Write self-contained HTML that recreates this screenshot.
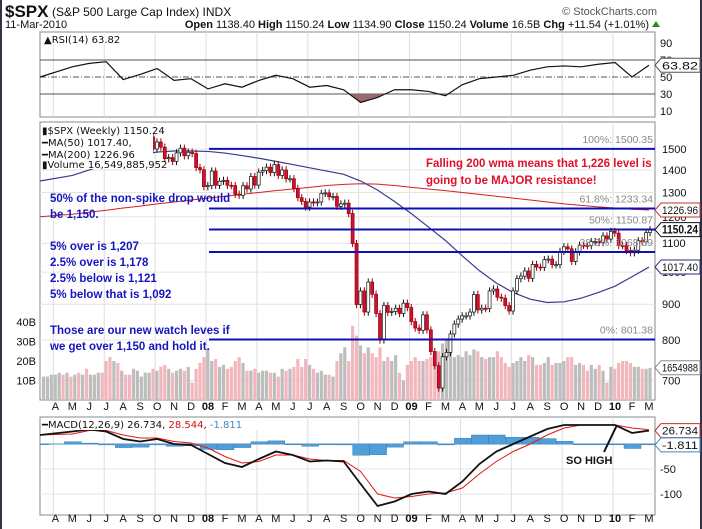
<!DOCTYPE html>
<html><head><meta charset="utf-8"><style>
html,body{margin:0;padding:0;background:#fff;}
svg{display:block;font-family:"Liberation Sans",Arial,sans-serif;}
.ax{font-size:11px;fill:#111;}
.note{font-size:11.5px;font-weight:bold;fill:#1515c0;}
.rnote{font-size:11.5px;font-weight:bold;fill:#e0102a;}
.fib{font-size:10.5px;fill:#888;}
.leg{font-family:"DejaVu Sans","Liberation Sans",sans-serif;font-size:10px;fill:#111;}
</style></head><body>
<svg id="chart" width="702" height="529" viewBox="0 0 702 529" xmlns="http://www.w3.org/2000/svg">
<rect x="0" y="0" width="702" height="529" fill="#fff"/>
<rect x="0" y="0" width="2" height="529" fill="#333344"/>
<rect x="700" y="0" width="2" height="529" fill="#333344"/>
<g>
<text x="5" y="17" font-size="17" font-weight="bold" fill="#111">$SPX</text>
<text x="52" y="16" font-size="12" fill="#111">(S&amp;P 500 Large Cap Index) INDX</text>
<text x="657" y="15" font-size="11" fill="#555" text-anchor="end">© StockCharts.com</text>
<text x="5" y="28" font-size="11" fill="#111">11-Mar-2010</text>
<text x="649" y="28" font-size="11" fill="#111" text-anchor="end"><tspan font-weight="bold">Open</tspan> 1138.40 <tspan font-weight="bold">High</tspan> 1150.24 <tspan font-weight="bold">Low</tspan> 1134.90 <tspan font-weight="bold">Close</tspan> 1150.24 <tspan font-weight="bold">Volume</tspan> 16.5B <tspan font-weight="bold">Chg</tspan> +11.54 (+1.01%)</text>
<polygon points="652,27 656,21 660,27" fill="#2a8a2a"/>
</g>
<g id="grid"></g>
<g id="rsi"></g>
<g id="price"></g>
<g id="macd"></g>
<g id="over"></g>
</svg>
<script>
const closes=[1444,1452,1471,1494, 1505,1491,1522,1515,1530, 1507,1532,1502,1503, 1530,1552,1534,1458, 1433,1453,1445,1479,1473, 1454,1484,1525,1527, 1557,1561,1500,1535, 1509,1453,1458,1440,1481, 1504,1467,1484,1478,
1411,1401,1325,1330,1395, 1331,1349,1353,1331,1330, 1293,1288,1329,1315, 1370,1332,1390,1397, 1413,1388,1425,1375,1400, 1360,1360,1318,1278, 1262,1239,1260,1257, 1260,1296,1298,1282,1283, 1242,1252,1255,1213, 1099,899,940,877,968, 930,873,800,896, 876,879,888,873,903,
890,850,832,826, 869,827,770,735, 683,757,768,816, 843,857,866,866,877, 929,883,888,887, 940,946,921,918, 896,880,940,979, 987,1004,980,1026, 1017,1016,1042,1044,1025, 1025,1071,1087,1080,1036, 1069,1093,1092,1091, 1106,1106,1102,1127,1115,
1144,1137,1092,1091, 1074,1066,1075,1109,1105, 1139,1150];
const volumes=[12,12,13,13, 14,13,14,12,13, 14,13,16,13, 13,14,14,20, 22,20,19,15,13, 13,16,15,12, 14,14,16,15, 17,18,16,14,15, 16,15,17,9,
16,19,22,26,20, 21,17,18,16,17, 20,22,19,15, 15,16,14,15, 15,14,14,12,16, 15,16,17,21, 17,21,18,16, 14,15,13,13,12, 20,24,27,20, 38,33,28,24,27, 24,22,27,20, 22,20,23,14,10,
18,20,22,20, 20,21,22,24, 25,29,31,25, 22,23,22,25,23, 26,25,22,21, 22,22,25,22, 19,17,19,20, 22,20,23,22, 18,18,19,22,18, 19,19,20,22,22, 18,19,18,15, 18,16,18,15,9,
17,16,19,20, 20,19,17,17,16, 16,16.5];
const monthLabels=["A","M","J","J","A","S","O","N","D","08","F","M","A","M","J","J","A","S","O","N","D","09","F","M","A","M","J","J","A","S","O","N","D","10","F","M"];
const ma50=[1350,1375,1400,1425,1450,1470,1485,1490,1490,1488,1480,1468,1455,1440,1425,1410,1395,1380,1350,1310,1262,1212,1160,1110,1055,1005,965,935,915,905,907,918,935,955,985,1017];
const ma200=[1200,1210,1218,1226,1235,1243,1252,1260,1268,1276,1284,1292,1300,1308,1315,1322,1330,1335,1338,1336,1330,1322,1315,1308,1300,1292,1284,1276,1268,1260,1252,1246,1240,1235,1230,1227];
const rsiVals=[50,62,66,68,47,53,60,46,48,36,42,38,46,52,48,38,40,35,20,26,35,35,33,28,41,48,50,52,58,62,63,62,65,67,50,63.82];
const macdVals=[18,25,29,25,10,5,10,0,-2,-20,-38,-46,-30,-15,-22,-35,-33,-35,-80,-124,-115,-100,-95,-100,-75,-40,-15,0,15,30,38,38,38,38,22,26.734];
const signalVals=[18,20,27,27,18,12,12,5,2,-8,-25,-38,-35,-22,-22,-30,-33,-33,-55,-100,-108,-105,-100,-98,-88,-60,-35,-15,0,18,32,38,38,38,32,28.544];
const priceTicks=[1500,1400,1300,1200,1100,1000,900,800,700];
const volTicks=[10,20,30,40];
const rsiTicks=[90,70,50,30,10];
const macdTicks=[-50,-100];
const fibLevels=[1500.35,1233.34,1150.87,1068.69,801.38];
const fibNames=["100%","61.8%","50%","38.2%","0%"];

const NS="http://www.w3.org/2000/svg";
const L=40,R=655;
function mk(tag,attrs,parent,txt){const e=document.createElementNS(NS,tag);for(const k in attrs)e.setAttribute(k,attrs[k]);if(txt!==undefined)e.textContent=txt;parent.appendChild(e);return e;}
const xW=i=>650-(closes.length-1-i)*3.913;
const xM=m=>208+(m-9)*16.96;
const yP=p=>149+(Math.log(1500)-Math.log(p))*303.8;
const yV=v=>400-v*1.95;
const yR=v=>94-(v-30)*0.85;
const yM=v=>444-v*0.5;
const G=document.getElementById('grid');
const panels=[[32,117],[122,400],[417,515]];
panels.forEach((p,k)=>{
  const r=mk('rect',{x:L,y:p[0],width:R-L,height:p[1]-p[0],fill:'#fff',stroke:'#888','stroke-width':1},G);
  
  
  for(let m=0;m<36;m+=3){
    const l=mk('line',{x1:xM(m)-2,x2:xM(m)-2,y1:p[0],y2:p[1],stroke:'#ddd'},G);
    
    
  }
});
[410,522].forEach(y=>{monthLabels.forEach((t,m)=>{
  const e=mk('text',{x:xM(m),y:y,class:'ax','text-anchor':'middle','font-weight':/\d/.test(t)?'bold':'normal','font-size':/\d/.test(t)?12:11},G,t);
  
  
});});
const RS=document.getElementById('rsi');
rsiTicks.forEach(v=>{
  const t=mk('text',{x:660,y:yR(v)+4,class:'ax'},RS,String(v));
  
  
});
[70,30].forEach(v=>{const l=mk('line',{x1:L,x2:R,y1:yR(v),y2:yR(v),stroke:'#555'},RS);});
{const l=mk('line',{x1:L,x2:R,y1:yR(50),y2:yR(50),stroke:'#555','stroke-dasharray':'6,2,1,2'},RS);}
const rsiPts=rsiVals.map((v,m)=>[m===0?L:xM(m),yR(v)]);
{const cp=mk('clipPath',{id:'below30'},RS);mk('rect',{x:L,y:yR(30),width:R-L,height:30},cp);}
{const f=mk('polygon',{points:rsiPts.map(p=>p.join(',')).join(' ')+` ${rsiPts[rsiPts.length-1][0]},${yR(30)} ${L},${yR(30)}`,fill:'#9a6a6a','clip-path':'url(#below30)'},RS);}
{const l=mk('polyline',{points:rsiPts.map(p=>p.join(',')).join(' '),fill:'none',stroke:'#111','stroke-width':1.2},RS);}
{const b=mk('rect',{x:41,y:33,width:68,height:12,fill:'#fff'},RS);
 const t=mk('text',{x:44,y:43,class:'leg','font-size':11},RS,'▲RSI(14) 63.82');}
const P=document.getElementById('price');
priceTicks.forEach(v=>{
  const l=mk('line',{x1:L,x2:R,y1:yP(v),y2:yP(v),stroke:'#e4e4e4'},P);
  
  
  const t=mk('text',{x:662,y:yP(v)+4,class:'ax'},P,String(v));
  
  
});
volTicks.forEach(v=>{
  const t=mk('text',{x:36,y:yV(v)+4,class:'ax','text-anchor':'end'},P,v+'B');
  
  
});
volumes.forEach((v,i)=>{
  const up=i===0||closes[i]>=closes[i-1];
  const r=mk('rect',{x:xW(i)-1.6,y:yV(v),width:3.2,height:400-yV(v),fill:up?'#bdbdbd':'#f2b7bd'},P);
  
  
});
{const l=mk('polyline',{points:ma200.map((v,m)=>`${m===0?L:xM(m)},${yP(v)}`).join(' '),fill:'none',stroke:'#d42020','stroke-width':1},P);}
{const l=mk('polyline',{points:ma50.map((v,m)=>`${m===0?L:xM(m)},${yP(v)}`).join(' '),fill:'none',stroke:'#3a3a90','stroke-width':1.2},P);}
closes.forEach((c,i)=>{
  const o=i>0?closes[i-1]:c;const hi=Math.max(o,c)*1.012,lo=Math.min(o,c)*0.988;
  const x=xW(i),up=c>=o;
  const w=mk('line',{x1:x,x2:x,y1:yP(hi),y2:yP(lo),stroke:up?'#111':'#900'},P);
  
  
  const top=yP(Math.max(o,c)),bot=yP(Math.min(o,c));
  const b=mk('rect',{x:x-1.5,y:top,width:3,height:Math.max(1,bot-top),fill:up?'#fff':'#d0103a',stroke:up?'#111':'#900','stroke-width':0.7},P);
  
  
});
fibLevels.forEach((v,k)=>{
  const l=mk('line',{x1:209,x2:R,y1:yP(v),y2:yP(v),stroke:'#1010b0','stroke-width':2},P);
  
  
  const t=mk('text',{x:653,y:yP(v)-6,class:'fib','text-anchor':'end'},P,fibNames[k]+': '+v.toFixed(2));
  
  
});
{const b=mk('rect',{x:41,y:123,width:112,height:46,fill:'#fff'},P);}
[['▮$SPX (Weekly) 1150.24','#111',134],['━MA(50) 1017.40,','#1a1a80',146],['━MA(200) 1226.96','#d01010',158],['▮Volume 16,549,885,952','#555',168]].forEach(a=>{
  const t=mk('text',{x:42,y:a[2],class:'leg',fill:a[1]},P,a[0]);
  
  
});
const M=document.getElementById('macd');
macdTicks.forEach(v=>{
  const l=mk('line',{x1:L,x2:R,y1:yM(v),y2:yM(v),stroke:'#e4e4e4'},M);
  
  
  const t=mk('text',{x:660,y:yM(v)+4,class:'ax'},M,String(v));
  
  
});
macdVals.forEach((v,m)=>{
  const h=v-signalVals[m];const x=m===0?L:xM(m)-8;
  const y0=yM(0),y1=yM(h*0.9);
  const r=mk('rect',{x:x,y:Math.min(y0,y1),width:m===0?9:17,height:Math.max(0.8,Math.abs(y1-y0)),fill:'#4f9fd8',stroke:'#2f6fa8','stroke-width':0.4},M);
  
  
});
{const l=mk('line',{x1:L,x2:R,y1:yM(0),y2:yM(0),stroke:'#4f8fc8'},M);}
{const l=mk('polyline',{points:signalVals.map((v,m)=>`${m===0?L:xM(m)},${yM(v)}`).join(' '),fill:'none',stroke:'#e01818','stroke-width':1},M);}
{const l=mk('polyline',{points:macdVals.map((v,m)=>`${m===0?L:xM(m)},${yM(v)}`).join(' '),fill:'none',stroke:'#111','stroke-width':1.8},M);}
{const b=mk('rect',{x:41,y:418,width:232,height:12,fill:'#fff'},M);
 const t=mk('text',{x:42,y:428,class:'leg','font-size':11},M);
 t.innerHTML='<tspan font-weight="bold">━</tspan>MACD(12,26,9) 26.734, <tspan fill="#d01010">28.544</tspan>, <tspan fill="#3a8ac8">-1.811</tspan>';}
const O=document.getElementById('over');
function tag(y,txt,stroke,bold,name){
  const g=mk('g',{},O);
  mk('polygon',{points:`655,${y} 661,${y-7} 700,${y-7} 700,${y+7} 661,${y+7}`,fill:'#fff',stroke:stroke,'stroke-width':1},g);
  mk('text',{x:662,y:y+4,'font-size':bold?12:11,'font-weight':bold?'bold':'normal',fill:'#111',textLength:36,lengthAdjust:'spacingAndGlyphs'},g,txt);
}
tag(yP(1226.96),'1226.96','#c03030',false,'ma200-value-tag');
tag(yP(1150.24),'1150.24','#111',true,'close-value-tag');
tag(yP(1017.40),'1017.40','#2a2a80',false,'ma50-value-tag');
tag(yV(16.55),'1654988','#888',false,'volume-value-tag');
tag(yR(63.82),'63.82','#555',false,'rsi-value-tag');
tag(yM(26.734),'26.734','#c03030',false,'macd-value-tag');
tag(yM(-1.811),'-1.811','#3a8ac8',false,'histogram-value-tag');
const notes=[['50% of the non-spike drop would',202],['be 1,150.',218],['5% over is 1,207',250],['2.5% over is 1,178',266],['2.5% below is 1,121',282],['5% below that is 1,092',298],['Those are our new watch leves if',334],['we get over 1,150 and hold it.',350]];
notes.forEach(n=>{const t=mk('text',{x:50,y:n[1],class:'note'},O,n[0]);});
[['Falling 200 wma means that 1,226 level is',167],['going to be MAJOR resistance!',184]].forEach(n=>{const t=mk('text',{x:426,y:n[1],class:'rnote'},O,n[0]);});
{const l=mk('line',{x1:604,y1:452,x2:617,y2:425,stroke:'#111','stroke-width':2},O);
 const t=mk('text',{x:566,y:464,'font-size':11,'font-weight':'bold',fill:'#111'},O,'SO HIGH');}
</script>
</body></html>
